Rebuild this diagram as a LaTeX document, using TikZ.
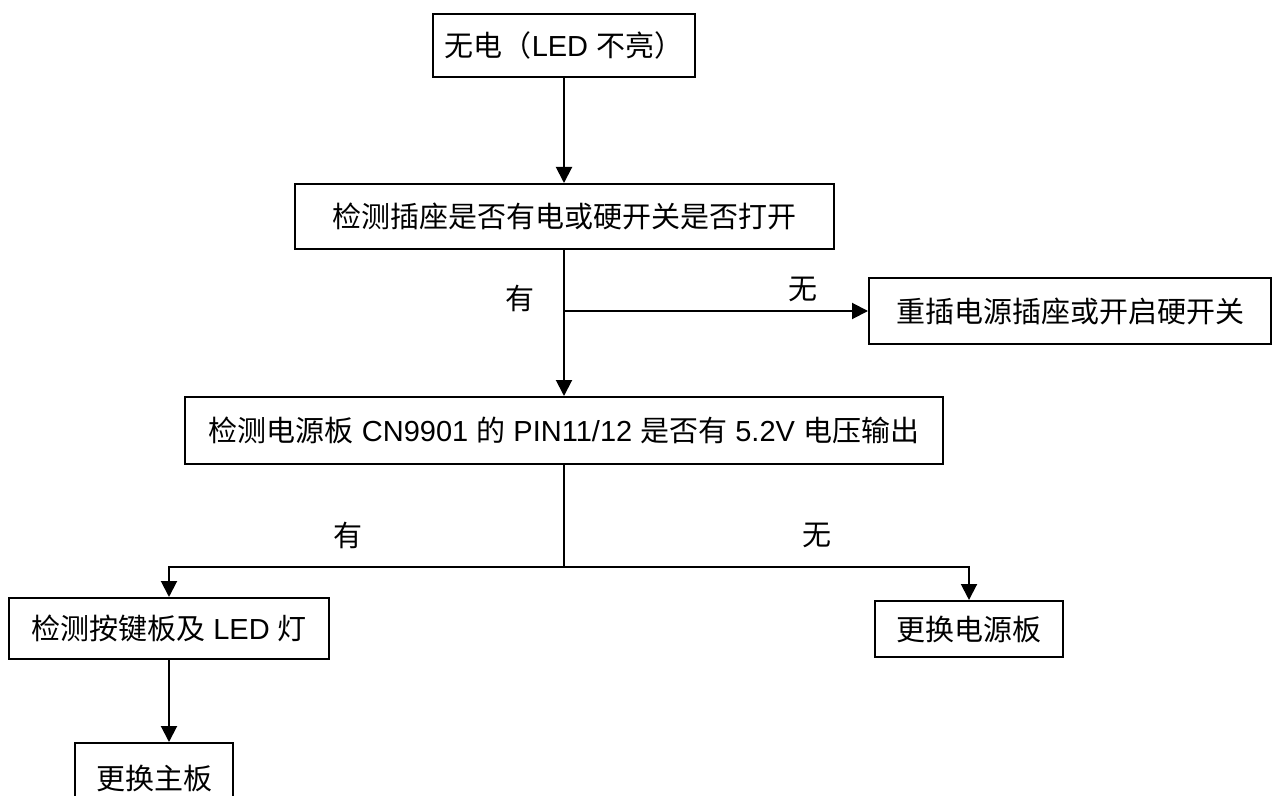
\documentclass[tikz,border=0pt]{standalone}
\usepackage{fontspec}
\setmainfont{Liberation Sans}
\newfontfamily\cjk{Noto Sans CJK SC}
\usepackage{tikz}
\usetikzlibrary{arrows.meta, positioning}

\newcommand{\zh}[1]{{\cjk #1}}

\begin{document}
\begin{tikzpicture}[
    x=0.5pt, y=-0.5pt,
    box/.style={draw=black, line width=1pt, inner sep=0pt, align=center, font=\fontsize{14.5}{17}\selectfont},
    tag/.style={inner sep=0pt, font=\fontsize{14.5}{17}\selectfont},
    arrow/.style={-{Triangle[length=8pt, width=8pt]}, line width=1pt}
]
    \useasboundingbox (0,0) rectangle (1273,796);
    \clip (0,0) rectangle (1273,796);

    \node[box, minimum width=131pt, minimum height=31.5pt] (nopower) at (564,45.5) {\zh{无电（}LED \zh{不亮）}};
    \node[box, minimum width=269.5pt, minimum height=32.5pt] (checksocket) at (564,216.5) {\zh{检测插座是否有电或硬开关是否打开}};
    \node[box, minimum width=201pt, minimum height=33pt] (replug) at (1070,311) {\zh{重插电源插座或开启硬开关}};
    \node[box, minimum width=379pt, minimum height=33.5pt] (checkpsu) at (564,430.5) {\zh{检测电源板} CN9901 \zh{的} PIN11/12 \zh{是否有} 5.2V \zh{电压输出}};
    \node[box, minimum width=160pt, minimum height=30.5pt] (checkkeys) at (169,628.5) {\zh{检测按键板及} LED \zh{灯}};
    \node[box, minimum width=94pt, minimum height=28pt] (newpsu) at (969,629) {\zh{更换电源板}};
    \node[box, minimum width=79pt, minimum height=35pt] (newmain) at (154,778) {\zh{更换主板}};

    % branch labels
    \node[tag] (yes1) at (520,298) {\zh{有}};
    \node[tag] (no1) at (803,289) {\zh{无}};
    \node[tag] (yes2) at (348,535) {\zh{有}};
    \node[tag] (no2) at (817,535) {\zh{无}};

    \coordinate (split1) at (checksocket.south |- replug.west);
    \coordinate (split2) at (checkpsu.south |- 0,567);

    \draw[arrow] (nopower.south) -- (checksocket.north);
    \draw[arrow] (checksocket.south) -- (checkpsu.north);
    \draw[arrow] (split1) -- (replug.west);
    \draw[line width=1pt] (checkpsu.south) -- (split2);
    \draw[arrow] (split2) -| (checkkeys.north);
    \draw[arrow] (split2) -| (newpsu.north);
    \draw[arrow] (checkkeys.south) -- (checkkeys.south |- newmain.north);
\end{tikzpicture}
\end{document}
